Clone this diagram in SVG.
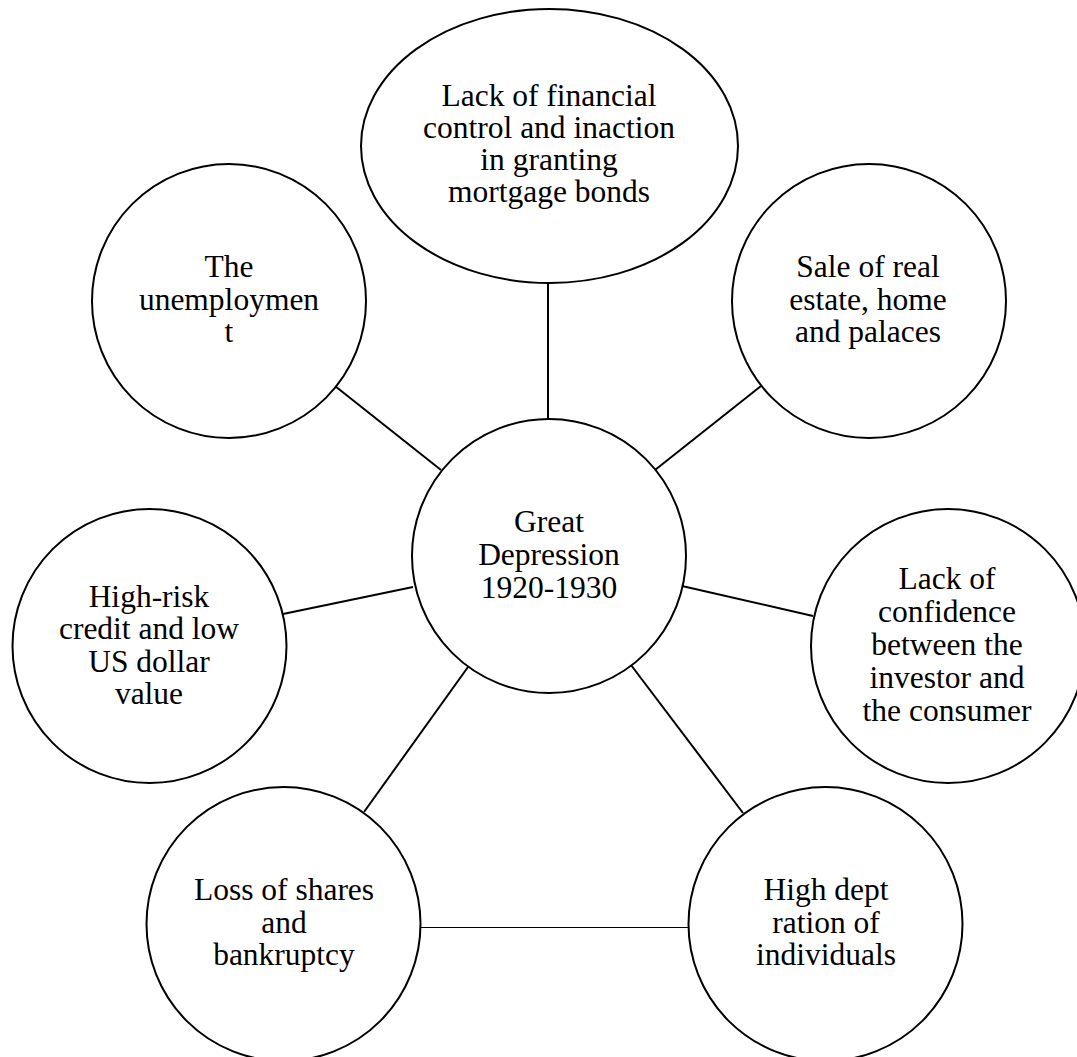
<svg xmlns="http://www.w3.org/2000/svg" width="1077" height="1057" viewBox="0 0 1077 1057">
<style>
.n{fill:#fff;stroke:#000;stroke-width:2}
.c line{stroke:#000;stroke-width:2}
.c line.thin{stroke-width:1}
text{font-family:"Liberation Serif","Times New Roman",serif;font-size:31.5px;fill:#000;text-anchor:middle}
</style>
<rect width="1077" height="1057" fill="#fff"/>
<g id="connectors" class="c">
<line x1="548" y1="283" x2="548" y2="419"/>
<line x1="335" y1="386" x2="441" y2="470"/>
<line x1="761" y1="386" x2="655" y2="470"/>
<line x1="283" y1="614" x2="413" y2="587"/>
<line x1="682" y1="586" x2="813" y2="616"/>
<line x1="468" y1="667" x2="364" y2="812"/>
<line x1="631" y1="665" x2="743" y2="813"/>
<line class="thin" x1="420" y1="927.5" x2="688" y2="927.5"/>
</g>
<g id="center">
<circle class="n" cx="549" cy="556" r="137"/>
<text x="549" y="532">Great</text>
<text x="549" y="565">Depression</text>
<text x="549" y="598">1920-1930</text>
</g>
<g id="top">
<ellipse class="n" cx="549.5" cy="146" rx="188.5" ry="137"/>
<text x="549" y="106">Lack of financial</text>
<text x="549" y="138">control and inaction</text>
<text x="549" y="170">in granting</text>
<text x="549" y="202">mortgage bonds</text>
</g>
<g id="topleft">
<circle class="n" cx="229" cy="301" r="137"/>
<text x="229" y="277">The</text>
<text x="229" y="310">unemploymen</text>
<text x="229" y="342">t</text>
</g>
<g id="topright">
<circle class="n" cx="869" cy="301" r="137"/>
<text x="868" y="277">Sale of real</text>
<text x="868" y="310">estate, home</text>
<text x="868" y="342">and palaces</text>
</g>
<g id="left">
<circle class="n" cx="149.5" cy="646" r="137"/>
<text x="149" y="607">High-risk</text>
<text x="149" y="639">credit and low</text>
<text x="149" y="672">US dollar</text>
<text x="149" y="704">value</text>
</g>
<g id="right">
<circle class="n" cx="948" cy="646" r="137"/>
<text x="947" y="589">Lack of</text>
<text x="947" y="622">confidence</text>
<text x="947" y="655">between the</text>
<text x="947" y="688">investor and</text>
<text x="947" y="721">the consumer</text>
</g>
<g id="bottomleft">
<circle class="n" cx="283.5" cy="924" r="137"/>
<text x="284" y="900">Loss of shares</text>
<text x="284" y="933">and</text>
<text x="284" y="965">bankruptcy</text>
</g>
<g id="bottomright">
<circle class="n" cx="825.5" cy="924" r="137"/>
<text x="826" y="900">High dept</text>
<text x="826" y="933">ration of</text>
<text x="826" y="965">individuals</text>
</g>
</svg>
